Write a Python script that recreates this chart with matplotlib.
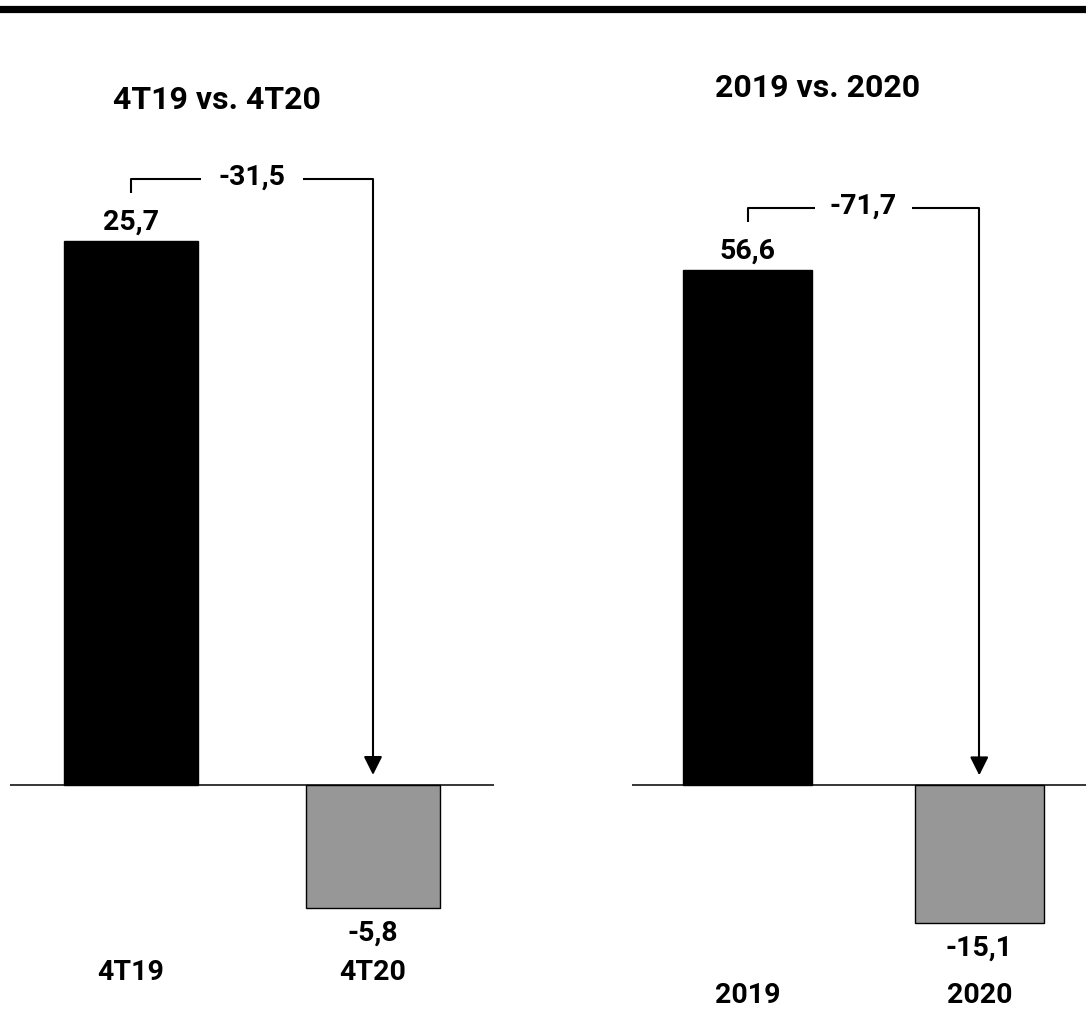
import matplotlib
matplotlib.use("Agg")
import matplotlib.pyplot as plt
from matplotlib.lines import Line2D

plt.rcParams['font.family'] = ['Roboto', 'DejaVu Sans']

# Data
titles = ['4T19 vs. 4T20', '2019 vs. 2020']
categories = [['4T19', '4T20'], ['2019', '2020']]
values = [[25.7, -5.8], [56.6, -15.1]]
changes = [-31.5, -71.7]

# Layout per panel (figure pixels / y limits)
W, H = 1086, 1011
panel_x = [(10, 494), (632, 1095)]
ylims = [(-10.68, 37.08), (-24.8, 86.3)]
title_x = [0.356, 0.30]
title_y = [100, 88]
cat_y = [972, 996]
bar_colors = ['black', '#979797']


def fmt(v):
    return f'{v:.1f}'.replace('.', ',')


fig = plt.figure(figsize=(W / 100, H / 100), dpi=100)

# thick rule across the top
fig.add_artist(Line2D([0, 1], [1 - 8.5 / H, 1 - 8.5 / H], color='black',
                      linewidth=5.2, transform=fig.transFigure))

font = dict(fontsize=20.5, fontweight='bold')

for i in range(2):
    x0, x1 = panel_x[i]
    ax = fig.add_axes([x0 / W, 0, (x1 - x0) / W, 1])
    ax.set_xlim(-0.5, 1.5)
    ax.set_ylim(*ylims[i])
    ax.axis('off')
    px = (ylims[i][1] - ylims[i][0]) / H  # data units per pixel

    vals = values[i]
    ax.bar([0, 1], vals, width=0.556, color=bar_colors,
           edgecolor='black', linewidth=1.0, zorder=2)
    ax.axhline(0, color='black', linewidth=1.1, zorder=3)

    # value labels
    ax.text(0, vals[0] + 19 * px, fmt(vals[0]), ha='center', va='center', **font)
    ax.text(1, vals[1] - 25 * px, fmt(vals[1]), ha='center', va='center', **font)

    # category labels
    for j, c in enumerate(categories[i]):
        ax.text(j, ylims[i][1] - cat_y[i] * px, c, ha='center', va='center', **font)

    # title
    ax.text(title_x[i], ylims[i][1] - title_y[i] * px, titles[i], ha='center',
            va='center', fontsize=23, fontweight='bold')

    # bracket with change value
    yb = vals[0] + 62 * px
    ax.plot([0, 0, 0.29], [yb - 14 * px, yb, yb], color='black',
            linewidth=1.5, solid_capstyle='butt')
    ax.plot([0.71, 1, 1], [yb, yb, 24 * px], color='black',
            linewidth=1.5, solid_capstyle='butt')
    ax.annotate('', xy=(1, 10 * px), xytext=(1, 26 * px),
                arrowprops=dict(arrowstyle='-|>', color='black',
                                mutation_scale=28, linewidth=1.5,
                                shrinkA=0, shrinkB=0))
    ax.text(0.5, yb + 2 * px, fmt(changes[i]), ha='center', va='center', **font)

fig.savefig('out.png', dpi=100)
